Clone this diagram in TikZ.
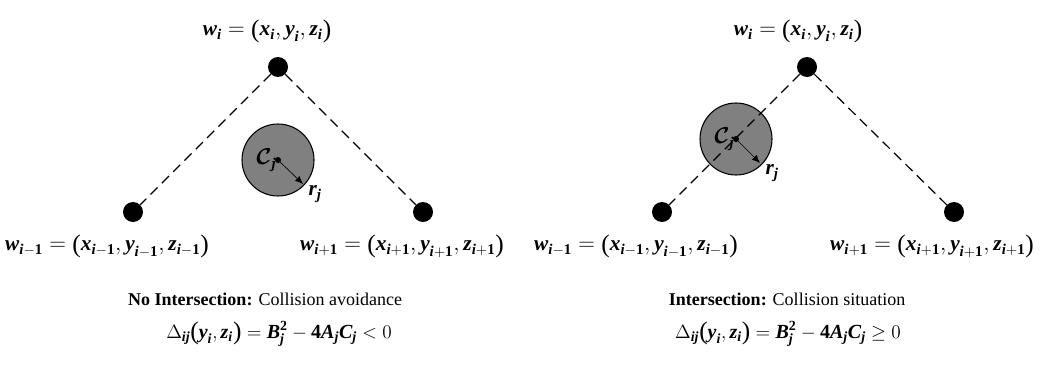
\documentclass[tikz,border=0pt]{standalone}
\usepackage{amsmath, amssymb}
\usepackage{fontspec}
\setmainfont{Liberation Serif}
\usepackage{tikz}
\usetikzlibrary{arrows.meta, positioning}
\newcommand{\bv}[1]{\text{\bfseries\itshape #1}}
\newcommand{\bn}[1]{\text{\bfseries #1}}
\newcommand{\lpar}{\mathopen{\text{\fontsize{19}{19}\selectfont\raisebox{-1pt}{(}}}}
\newcommand{\rpar}{\mathclose{\text{\fontsize{19}{19}\selectfont\raisebox{-1pt}{)}}}}
\newcommand{\wpt}[1]{\bv{w}_{#1} = \lpar\bv{x}_{#1}, \bv{y}_{#1}, \bv{z}_{#1}\rpar}

\begin{document}
\begin{tikzpicture}[
    x=0.75pt, y=-0.75pt,
    waypt/.style={circle, fill=black, minimum size=15pt, inner sep=0pt},
    obst/.style={circle, draw, thick, fill=black!50, minimum size=54pt, inner sep=0pt},
    lbl/.style={font=\fontsize{16}{18}\selectfont, inner sep=0pt},
    captxt/.style={font=\fontsize{13.5}{16}\selectfont, inner sep=0pt},
    eqtxt/.style={font=\fontsize{15}{17}\selectfont, inner sep=0pt},
    dashline/.style={dash pattern=on 7.5pt off 4.5pt, line width=0.9pt},
    rad/.style={-{Latex[length=6pt, width=5pt]}, line width=0.5pt}
]
\useasboundingbox (0,0) rectangle (1048,371);

% left: no intersection
\node[waypt] (lt) at (278,67) {};
\node[waypt] (ll) at (133,212) {};
\node[waypt] (lr) at (423,212) {};
\node[obst] (lc) at (278,160) {};
\fill (lc.center) circle (3);
\coordinate (lre) at (303,184);
\draw[rad] (lc.center) -- (lre);
\node[lbl, left=1pt of lc.center] (lcl) {$\boldsymbol{\mathcal{C}}_{\bv{j}}$};
\node[lbl, below right=1pt and 4pt of lre] (lrl) {$\bv{r}_{\bv{j}}$};
\draw[dashline] (lt) -- (ll);
\draw[dashline] (lt) -- (lr);
\node[lbl] (ltl) at (267,31) {$\wpt{\bv{i}}$};
\node[lbl] (lll) at (107,246) {$\wpt{\bv{i}-\bn{1}}$};
\node[lbl] (lrl2) at (402,246) {$\wpt{\bv{i}+\bn{1}}$};
\node[captxt] (lcap) at (265,299) {\textbf{No Intersection:} Collision avoidance};
\node[eqtxt] (leq) at (279,334) {$\Delta_{\bv{ij}}\lpar\bv{y}_{\bv{i}}, \bv{z}_{\bv{i}}\rpar = \bv{B}_{\bv{j}}^{\bn{2}} - \bn{4}\bv{A}_{\bv{j}}\bv{C}_{\bv{j}} < 0$};

% right: intersection
\node[waypt] (rt) at (807,67) {};
\node[waypt] (rl) at (662,212) {};
\node[waypt] (rr) at (954,212) {};
\node[obst] (rc) at (736,139) {};
\draw[dashline] (rt) -- (rl);
\draw[dashline] (rt) -- (rr);
\fill (rc.center) circle (3);
\coordinate (rre) at (760,163);
\draw[rad] (rc.center) -- (rre);
\node[lbl, left=1pt of rc.center] (rcl) {$\boldsymbol{\mathcal{C}}_{\bv{j}}$};
\node[lbl, below right=1pt and 4pt of rre] (rrl) {$\bv{r}_{\bv{j}}$};
\node[lbl] (rtl) at (798,31) {$\wpt{\bv{i}}$};
\node[lbl] (rll) at (636,246) {$\wpt{\bv{i}-\bn{1}}$};
\node[lbl] (rrl2) at (932,246) {$\wpt{\bv{i}+\bn{1}}$};
\node[captxt] (rcap) at (787,299) {\textbf{Intersection:} Collision situation};
\node[eqtxt] (req) at (788,334) {$\Delta_{\bv{ij}}\lpar\bv{y}_{\bv{i}}, \bv{z}_{\bv{i}}\rpar = \bv{B}_{\bv{j}}^{\bn{2}} - \bn{4}\bv{A}_{\bv{j}}\bv{C}_{\bv{j}} \geq 0$};
\end{tikzpicture}
\end{document}
